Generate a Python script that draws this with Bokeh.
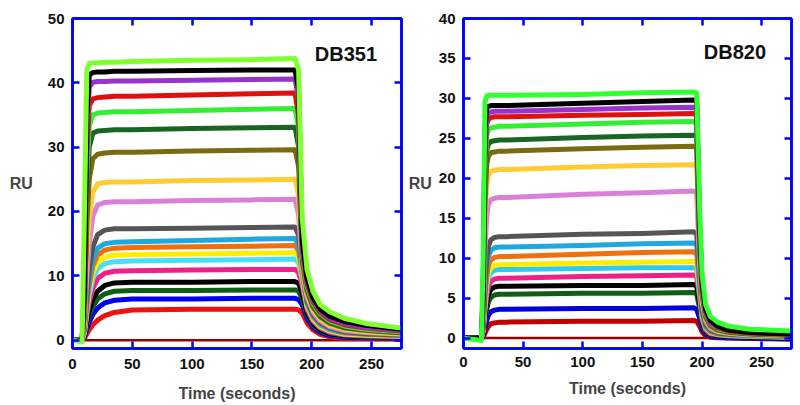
from bokeh.plotting import figure
from bokeh.models import Range1d, LinearAxis, FixedTicker, Label, CustomLabelingPolicy
from bokeh.layouts import row
from bokeh.embed import file_html
from bokeh.resources import INLINE

# ---------------- DB351 (left panel) ----------------
db351_time = [0, 8, 10, 12, 14, 17, 21, 27, 35, 50, 100, 150, 186, 189, 192, 196, 201, 207, 215, 227, 245, 275]
db351_lime = [0, -0.3, 20, 42, 43, 43.1, 43.1, 43.2, 43.2, 43.3, 43.5, 43.6, 43.8, 42, 19, 11.0, 7.6, 5.5, 4.4, 3.4, 2.6, 1.9]
db351_black1 = [0, 0, 8, 35, 41.2, 41.6, 41.7, 41.7, 41.8, 41.8, 41.9, 42.0, 42.0, 39, 15.5, 9.6, 6.6, 4.8, 3.7, 2.9, 2.3, 1.7]
db351_purple = [0, 0, 7, 32, 39.3, 40.1, 40.2, 40.2, 40.3, 40.3, 40.4, 40.5, 40.6, 37.5, 14.8, 9.2, 6.3, 4.5, 3.4, 2.6, 2.0, 1.5]
db351_red1 = [0, 0, 6, 29, 36.4, 37.5, 37.7, 37.8, 37.9, 37.9, 38.1, 38.3, 38.4, 35, 14.2, 8.8, 6.0, 4.3, 3.2, 2.4, 1.9, 1.4]
db351_green = [0, 0, 5, 26, 33.3, 35.0, 35.3, 35.4, 35.5, 35.5, 35.7, 35.9, 36.0, 33, 13.6, 8.4, 5.7, 4.1, 3.0, 2.2, 1.7, 1.3]
db351_dkgreen1 = [0, 0, 4.5, 22, 30, 32.2, 32.5, 32.6, 32.7, 32.7, 32.9, 33.0, 33.1, 30, 13.0, 8.0, 5.4, 3.8, 2.8, 2.0, 1.6, 1.2]
db351_olive = [0, 0, 4, 18, 25, 28.2, 28.9, 29.1, 29.2, 29.2, 29.4, 29.5, 29.6, 27, 12.3, 7.6, 5.1, 3.6, 2.6, 1.9, 1.5, 1.1]
db351_gold = [0, 0, 3, 13, 19, 23, 24.3, 24.5, 24.6, 24.6, 24.8, 24.9, 25.0, 22.5, 11.5, 7.1, 4.7, 3.3, 2.3, 1.7, 1.3, 1.0]
db351_orchid = [0, 0, 2.5, 10, 15, 19.3, 21, 21.4, 21.5, 21.5, 21.7, 21.8, 21.9, 19.5, 10.8, 6.7, 4.4, 3.0, 2.1, 1.5, 1.2, 0.9]
db351_gray = [0, 0, 2, 7, 11, 14.5, 16.4, 17.1, 17.3, 17.3, 17.4, 17.5, 17.6, 16.3, 11.5, 6.2, 4.0, 2.7, 1.9, 1.3, 1.0, 0.8]
db351_sky = [0, 0, 1.7, 6, 9.5, 12.5, 14.3, 15.0, 15.2, 15.3, 15.5, 15.7, 15.8, 14.8, 10.8, 5.9, 3.8, 2.5, 1.7, 1.2, 0.95, 0.75]
db351_orange = [0, 0, 1.5, 5.5, 8.5, 11.5, 13.2, 14.0, 14.3, 14.4, 14.5, 14.6, 14.7, 13.9, 10.3, 5.7, 3.6, 2.4, 1.6, 1.1, 0.9, 0.7]
db351_yellow = [0, 0, 1.3, 5, 7.8, 10.5, 12.1, 12.9, 13.2, 13.3, 13.4, 13.5, 13.6, 12.9, 9.8, 5.4, 3.4, 2.2, 1.5, 1.0, 0.8, 0.65]
db351_cyan = [0, 0, 1.2, 4.5, 7, 9.5, 11.1, 11.9, 12.2, 12.3, 12.4, 12.5, 12.6, 12.0, 9.3, 5.2, 3.2, 2.1, 1.4, 0.9, 0.75, 0.6]
db351_pink = [0, 0, 1.0, 3.8, 6, 8, 9.6, 10.4, 10.7, 10.8, 10.9, 11.0, 11.0, 10.5, 8.4, 4.8, 2.9, 1.9, 1.2, 0.8, 0.65, 0.5]
db351_black2 = [0, 0, 0.8, 3, 4.6, 6.3, 7.6, 8.5, 8.9, 9.0, 9.0, 9.1, 9.1, 8.8, 7.3, 4.3, 2.6, 1.6, 1.0, 0.7, 0.55, 0.45]
db351_dkgreen2 = [0, 0, 0.7, 2.4, 3.8, 5.2, 6.4, 7.2, 7.6, 7.7, 7.7, 7.8, 7.8, 7.6, 6.4, 3.9, 2.3, 1.4, 0.9, 0.6, 0.45, 0.35]
db351_blue = [0, 0, 0.5, 1.8, 2.8, 4.0, 5.0, 5.8, 6.2, 6.4, 6.4, 6.5, 6.5, 6.3, 5.5, 3.4, 2.0, 1.2, 0.7, 0.45, 0.35, 0.3]
db351_red2 = [0, 0, 0.3, 1.0, 1.6, 2.4, 3.1, 3.8, 4.3, 4.7, 4.8, 4.8, 4.8, 4.7, 4.2, 2.7, 1.6, 0.9, 0.5, 0.3, 0.25, 0.2]
db351_blank_time = [2, 275]
db351_blank = [0.0, 0.0]

# ---------------- DB820 (right panel) ----------------
db820_time = [0, 15, 16.5, 18, 19.5, 21, 23, 26, 30, 36, 100, 150, 193, 195.5, 198, 200, 203, 207, 213, 222, 240, 275]
db820_lime = [0, -0.3, 10, 29.5, 30.3, 30.4, 30.4, 30.4, 30.4, 30.4, 30.5, 30.7, 30.8, 30.7, 16, 8.0, 4.2, 2.7, 2.0, 1.5, 1.1, 0.9]
db820_black1 = [0, 0, 6, 26, 28.8, 29.0, 29.1, 29.1, 29.1, 29.1, 29.4, 29.6, 29.8, 29.6, 14, 7.0, 3.6, 2.2, 1.5, 1.0, 0.7, 0.5]
db820_purple = [0, 0, 5.5, 24, 27.8, 28.2, 28.3, 28.4, 28.4, 28.4, 28.6, 28.8, 28.9, 28.7, 13.5, 6.7, 3.4, 2.0, 1.4, 1.0, 0.7, 0.5]
db820_red1 = [0, 0, 5, 22.5, 26.8, 27.4, 27.6, 27.7, 27.7, 27.7, 27.9, 28.0, 28.1, 27.9, 13, 6.4, 3.2, 1.9, 1.3, 0.9, 0.65, 0.45]
db820_green = [0, 0, 4.5, 21, 25.4, 26.1, 26.3, 26.4, 26.5, 26.5, 26.8, 27.0, 27.1, 26.9, 12.5, 6.1, 3.0, 1.8, 1.2, 0.85, 0.6, 0.4]
db820_dkgreen1 = [0, 0, 4, 19, 23.5, 24.3, 24.6, 24.7, 24.8, 24.8, 25.1, 25.3, 25.4, 25.2, 11.8, 5.8, 2.8, 1.7, 1.1, 0.8, 0.55, 0.4]
db820_olive = [0, 0, 3.6, 17, 21.8, 22.8, 23.2, 23.3, 23.4, 23.4, 23.7, 23.9, 24.0, 23.8, 11.2, 5.5, 2.6, 1.5, 1.0, 0.7, 0.5, 0.35]
db820_gold = [0, 0, 3, 14.5, 19.2, 20.4, 20.9, 21.0, 21.1, 21.1, 21.4, 21.6, 21.7, 21.5, 10.3, 5.0, 2.4, 1.4, 0.9, 0.65, 0.45, 0.3]
db820_orchid = [0, 0, 2.4, 11, 15.3, 16.8, 17.3, 17.5, 17.6, 17.6, 18.0, 18.2, 18.4, 18.2, 9.0, 4.4, 2.1, 1.2, 0.8, 0.6, 0.4, 0.3]
db820_gray = [0, 0, 1.6, 6.5, 10.0, 11.6, 12.3, 12.6, 12.7, 12.7, 13.0, 13.1, 13.3, 13.0, 8.0, 3.6, 1.7, 1.0, 0.65, 0.5, 0.35, 0.25]
db820_sky = [0, 0, 1.4, 5.6, 8.8, 10.3, 11.0, 11.3, 11.4, 11.4, 11.6, 11.8, 11.9, 11.6, 7.2, 3.3, 1.5, 0.9, 0.6, 0.45, 0.3, 0.2]
db820_orange = [0, 0, 1.2, 4.9, 7.7, 9.2, 9.8, 10.1, 10.2, 10.2, 10.5, 10.7, 10.8, 10.5, 6.6, 3.1, 1.4, 0.8, 0.55, 0.4, 0.3, 0.2]
db820_yellow = [0, 0, 1.0, 4.3, 6.8, 8.2, 8.8, 9.1, 9.2, 9.2, 9.4, 9.5, 9.6, 9.4, 6.0, 2.8, 1.3, 0.7, 0.5, 0.35, 0.25, 0.15]
db820_cyan = [0, 0, 0.9, 3.9, 6.2, 7.6, 8.2, 8.5, 8.6, 8.6, 8.7, 8.8, 8.8, 8.6, 5.6, 2.6, 1.2, 0.65, 0.45, 0.3, 0.2, 0.1]
db820_pink = [0, 0, 0.8, 3.3, 5.3, 6.5, 7.1, 7.4, 7.5, 7.5, 7.7, 7.8, 7.9, 7.7, 5.0, 2.3, 1.0, 0.55, 0.4, 0.3, 0.2, 0.1]
db820_black2 = [0, 0, 0.6, 2.7, 4.4, 5.5, 6.1, 6.4, 6.5, 6.5, 6.6, 6.6, 6.7, 6.5, 4.3, 2.0, 0.9, 0.45, 0.3, 0.2, 0.1, 0.0]
db820_dkgreen2 = [0, 0, 0.5, 2.2, 3.6, 4.6, 5.1, 5.4, 5.5, 5.5, 5.6, 5.6, 5.7, 5.5, 3.7, 1.7, 0.7, 0.35, 0.25, 0.2, 0.1, 0.0]
db820_blue = [0, 0, 0.3, 1.3, 2.2, 2.9, 3.3, 3.5, 3.6, 3.6, 3.7, 3.7, 3.8, 3.6, 2.5, 1.2, 0.5, 0.2, 0.1, 0.05, 0.0, -0.1]
db820_red2 = [0, 0, 0.1, 0.6, 1.1, 1.5, 1.8, 1.9, 2.0, 2.0, 2.1, 2.1, 2.2, 2.1, 1.5, 0.8, 0.3, 0.1, 0.05, 0.0, -0.05, -0.1]
db820_blank_time = [0, 275]
db820_blank = [0.0, 0.0]

x_ticks = [0, 50, 100, 150, 200, 250]
db351_y_ticks = [0, 10, 20, 30, 40, 50]
db820_y_ticks = [0, 5, 10, 15, 20, 25, 30, 35, 40]

BLUE = "#0000FF"
FONT = "Liberation Sans"

left_series = [
    (db351_red2, "#EE1111"), (db351_blue, "#0000EE"), (db351_dkgreen2, "#0E5E16"),
    (db351_black2, "#000000"), (db351_pink, "#F0208A"), (db351_cyan, "#44E0F8"),
    (db351_yellow, "#FFEE00"), (db351_orange, "#F07010"), (db351_sky, "#1EA8E0"),
    (db351_gray, "#555555"), (db351_orchid, "#DA80DA"), (db351_gold, "#FFCC33"),
    (db351_olive, "#7A6A10"), (db351_dkgreen1, "#1A6424"), (db351_green, "#33EE33"),
    (db351_red1, "#E01010"), (db351_purple, "#9933CC"), (db351_black1, "#000000"),
    (db351_lime, "#80FF30"),
]
right_series = [
    (db820_red2, "#C00000"), (db820_blue, "#0000DD"), (db820_dkgreen2, "#0E5E16"),
    (db820_black2, "#000000"), (db820_pink, "#F0208A"), (db820_cyan, "#30C8F0"),
    (db820_yellow, "#FFEE00"), (db820_orange, "#F07010"), (db820_sky, "#1EA8E0"),
    (db820_gray, "#555555"), (db820_orchid, "#DA80DA"), (db820_gold, "#FFCC33"),
    (db820_olive, "#7A6A10"), (db820_dkgreen1, "#1A6424"), (db820_green, "#33EE33"),
    (db820_red1, "#E01010"), (db820_purple, "#9933CC"), (db820_black1, "#000000"),
    (db820_lime, "#33FF33"),
]


def style_axis(ax, ticks, show_labels):
    ax.ticker = FixedTicker(ticks=ticks)
    ax.axis_line_color = BLUE
    ax.axis_line_width = 2.5
    ax.major_tick_line_color = BLUE
    ax.major_tick_line_width = 2.5
    ax.major_tick_in = 7
    ax.major_tick_out = 0
    ax.minor_tick_line_color = None
    ax.major_label_text_font = FONT
    ax.major_label_text_font_style = "bold"
    ax.major_label_text_color = "#111111"
    if show_labels:
        ax.major_label_text_font_size = "15px"
    else:
        ax.major_label_text_font_size = "1px"
        ax.major_label_standoff = 0
        ax.major_label_policy = CustomLabelingPolicy(code="return new Set()")


def make_panel(time, series, blank_t, blank, yticks, ymax, width, height,
               b_left, b_top, b_bottom, b_right, name, name_x, name_y,
               tick_standoff, xlab_standoff, ylab_standoff):
    p = figure(width=width, height=height, output_backend="svg", toolbar_location=None,
               x_range=Range1d(0, 275), y_range=Range1d(-1.3, ymax),
               min_border_left=b_left, min_border_top=b_top,
               min_border_bottom=b_bottom, min_border_right=b_right)
    p.grid.visible = False
    p.outline_line_color = BLUE
    p.outline_line_width = 2.5
    p.background_fill_color = "white"
    p.border_fill_color = "white"

    p.line(blank_t, blank, line_color="#990000", line_width=2.5)
    for vals, col in series:
        p.line(time, vals, line_color=col, line_width=5, line_join="round")

    style_axis(p.xaxis[0], x_ticks, True)
    style_axis(p.yaxis[0], yticks, True)
    p.xaxis.major_label_standoff = tick_standoff
    p.yaxis.major_label_standoff = 8
    p.xaxis.axis_label = "Time (seconds)"
    p.xaxis.axis_label_text_font = FONT
    p.xaxis.axis_label_text_font_style = "bold"
    p.xaxis.axis_label_text_font_size = "16px"
    p.xaxis.axis_label_standoff = xlab_standoff
    p.yaxis.axis_label = "RU"
    p.yaxis.axis_label_orientation = "horizontal"
    p.yaxis.axis_label_text_font = FONT
    p.yaxis.axis_label_text_font_style = "bold"
    p.yaxis.axis_label_text_font_size = "16px"
    p.yaxis.axis_label_standoff = ylab_standoff

    top = LinearAxis()
    style_axis(top, x_ticks, False)
    p.add_layout(top, "above")
    right = LinearAxis()
    style_axis(right, yticks, False)
    p.add_layout(right, "right")

    p.add_layout(Label(x=name_x, y=name_y, text=name, text_font=FONT,
                       text_font_style="bold", text_font_size="20px",
                       text_color="#111111"))
    return p


p1 = make_panel(db351_time, left_series, db351_blank_time, db351_blank, db351_y_ticks, 50,
                405, 405, 72, 18, 55, 1, "DB351", 202.5, 42.8, 10, 13, 12)
p2 = make_panel(db820_time, right_series, db820_blank_time, db820_blank, db820_y_ticks, 40,
                390, 405, 56, 15, 57, 2, "DB820", 201.5, 34.4, 8, 10, 4)

layout = row(p1, p2)
open("out.html", "w").write(file_html(layout, INLINE))
